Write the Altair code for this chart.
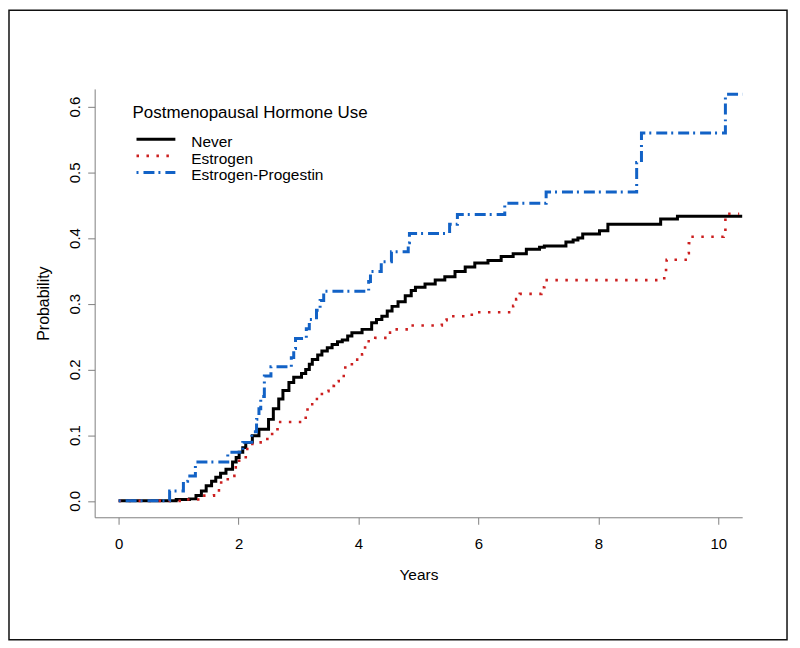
import altair as alt
import pandas as pd

# ---- data (step curves: time in years, cumulative probability) ----
never_t = [0, 0.96, 1.18, 1.29, 1.38, 1.46, 1.55, 1.62, 1.70, 1.79, 1.90, 1.96, 2.01, 2.07, 2.12,
           2.23, 2.34, 2.50, 2.58, 2.67, 2.74, 2.84, 2.92, 3.05, 3.12, 3.18, 3.23, 3.32, 3.39, 3.48,
           3.56, 3.65, 3.73, 3.82, 3.89, 4.06, 4.22, 4.30, 4.39, 4.48, 4.56, 4.66, 4.78, 4.88, 4.95,
           5.11, 5.28, 5.44, 5.61, 5.78, 5.94, 6.16, 6.38, 6.58, 6.80, 7.02, 7.10, 7.46, 7.58, 7.66,
           7.74, 8.02, 8.16, 9.04, 9.32, 10.4]
never_p = [0, 0.002, 0.003, 0.008, 0.015, 0.023, 0.030, 0.036, 0.042, 0.048, 0.059, 0.066, 0.074, 0.081, 0.089,
           0.099, 0.109, 0.124, 0.140, 0.155, 0.168, 0.180, 0.188, 0.194, 0.200, 0.208, 0.215, 0.222, 0.228, 0.233,
           0.238, 0.242, 0.245, 0.251, 0.256, 0.261, 0.271, 0.276, 0.281, 0.289, 0.296, 0.303, 0.312, 0.320, 0.325,
           0.330, 0.336, 0.341, 0.349, 0.356, 0.362, 0.366, 0.372, 0.376, 0.383, 0.386, 0.388, 0.394, 0.397, 0.400,
           0.406, 0.411, 0.421, 0.429, 0.433, 0.433]

estr_t = [0, 1.10, 1.35, 1.59, 1.71, 1.82, 1.93, 2.01, 2.12, 2.23, 2.48, 2.56, 2.65, 3.12, 3.15, 3.26,
          3.39, 3.50, 3.59, 3.67, 3.78, 3.89, 4.06, 4.11, 4.28, 4.50, 4.61, 4.83, 5.39, 5.47, 5.89,
          6.58, 6.63, 6.69, 7.05, 7.10, 9.10, 9.13, 9.14, 9.48, 9.51, 9.54, 10.09, 10.12, 10.35]
estr_p = [0, 0.002, 0.008, 0.016, 0.031, 0.038, 0.051, 0.061, 0.079, 0.089, 0.099, 0.109, 0.120, 0.135, 0.147, 0.155,
          0.167, 0.175, 0.182, 0.190, 0.205, 0.215, 0.223, 0.243, 0.248, 0.256, 0.261, 0.267, 0.275, 0.281, 0.287,
          0.297, 0.307, 0.315, 0.325, 0.336, 0.341, 0.354, 0.367, 0.377, 0.392, 0.402, 0.409, 0.437, 0.437]

ep_t = [0, 0.85, 1.08, 1.15, 1.28, 1.82, 2.07, 2.22, 2.30, 2.34, 2.37, 2.43, 2.54, 2.88, 2.92, 2.95,
        3.13, 3.18, 3.30, 3.36, 3.42, 4.17, 4.20, 4.38, 4.55, 4.83, 4.85, 5.52, 5.65, 6.44, 7.13,
        8.64, 8.72, 10.12, 10.4]
ep_p = [0, 0.015, 0.030, 0.038, 0.059, 0.074, 0.089, 0.105, 0.124, 0.140, 0.159, 0.190, 0.204, 0.218, 0.232, 0.247,
        0.262, 0.276, 0.290, 0.305, 0.319, 0.334, 0.349, 0.364, 0.379, 0.393, 0.407, 0.421, 0.436, 0.453, 0.470,
        0.515, 0.560, 0.619, 0.619]

x_ticks = [0, 2, 4, 6, 8, 10]
y_ticks = [0.0, 0.1, 0.2, 0.3, 0.4, 0.5, 0.6]

legend_title = "Postmenopausal Hormone Use"
legend_labels = ["Never", "Estrogen", "Estrogen-Progestin"]

BLACK = "#000000"
RED = "#cc1f1f"
BLUE = "#1262c6"
FONT = "Liberation Sans"

xs = alt.Scale(domain=[-0.4, 10.4], nice=False, zero=False)
ys = alt.Scale(domain=[-0.025, 0.627], nice=False, zero=False)

x_axis = alt.Axis(values=x_ticks, format="d", title="Years", grid=False, domainColor="#808080",
                  tickColor="#808080", tickSize=7, labelPadding=12, labelFontSize=15, labelFont=FONT,
                  labelColor="black", titleFont=FONT, titleFontSize=15.5, titleFontWeight="normal",
                  titleColor="black", titleY=62, titleBaseline="alphabetic")
y_axis = alt.Axis(values=y_ticks, format=".1f", title="Probability", grid=False, domainColor="#808080",
                  tickColor="#808080", tickSize=7, labelPadding=8, labelFontSize=15, labelFont=FONT,
                  labelColor="black", labelAngle=270, labelAlign="center", labelBaseline="alphabetic",
                  titleFont=FONT, titleFontSize=16, titleFontWeight="normal", titleColor="black",
                  titleAngle=270, titleX=-46, titleBaseline="alphabetic")


def curve(t, p, color, dash, width, with_axes=False):
    df = pd.DataFrame({"t": t, "p": p})
    if with_axes:
        enc = dict(x=alt.X("t:Q", scale=xs, axis=x_axis), y=alt.Y("p:Q", scale=ys, axis=y_axis))
    else:
        enc = dict(x=alt.X("t:Q", scale=xs), y=alt.Y("p:Q", scale=ys))
    kw = dict(interpolate="step-after", color=color, strokeWidth=width)
    if dash:
        kw["strokeDash"] = dash
    return alt.Chart(df).mark_line(**kw).encode(**enc)


never = curve(never_t, never_p, BLACK, None, 3, with_axes=True)
estr = curve(estr_t, estr_p, RED, [2.5, 7.5], 2.6)
ep = curve(ep_t, ep_p, BLUE, [2, 5, 11, 4], 3)

one = pd.DataFrame({"k": [0]})

frame = alt.Chart(one).mark_rect(filled=False, stroke="#111111", strokeWidth=1.5).encode(
    x=alt.value(-86), x2=alt.value(695), y=alt.value(-79), y2=alt.value(553))

leg_title = alt.Chart(pd.DataFrame({"txt": [legend_title]})).mark_text(
    align="left", baseline="alphabetic", font=FONT, fontSize=17, color="black").encode(
    x=alt.value(38), y=alt.value(29), text="txt:N")

leg_items = []
styles = [(BLACK, None, 3), (RED, [2.5, 7.5], 2.6), (BLUE, [2, 5, 11, 4], 3)]
for i, (lab, (col, dash, w)) in enumerate(zip(legend_labels, styles)):
    yl = 50.5 + i * 16.7
    kw = dict(color=col, strokeWidth=w)
    if dash:
        kw["strokeDash"] = dash
    leg_items.append(alt.Chart(one).mark_rule(**kw).encode(
        x=alt.value(42), x2=alt.value(81), y=alt.value(yl)))
    leg_items.append(alt.Chart(pd.DataFrame({"txt": [lab]})).mark_text(
        align="left", baseline="alphabetic", font=FONT, fontSize=15.5, color="black").encode(
        x=alt.value(97), y=alt.value(yl + 7.7), text="txt:N"))

chart = alt.layer(never, estr, ep, frame, leg_title, *leg_items).properties(
    width=650, height=430,
    autosize=alt.AutoSizeParams(type="none"),
    padding={"left": 87, "top": 80, "right": 50, "bottom": 128},
    background="white",
).configure_view(stroke=None)

chart.save("out.html", embed_options={"renderer": "svg", "actions": False})
